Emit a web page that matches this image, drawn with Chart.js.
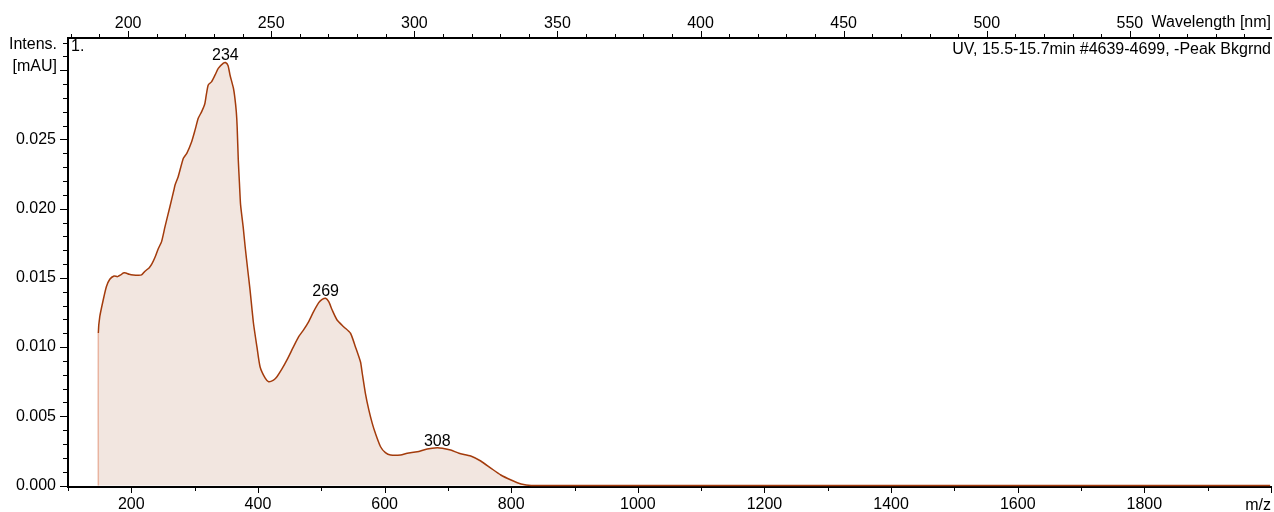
<!DOCTYPE html>
<html>
<head>
<meta charset="utf-8">
<title>UV spectrum</title>
<script src="https://cdn.jsdelivr.net/npm/chart.js@4.4.1/dist/chart.umd.min.js"></script>
<style>
  html, body { margin: 0; padding: 0; background: #fff; overflow: hidden; }
  #wrap { width: 1274px; height: 512px; position: relative; }
</style>
</head>
<body>
<div id="wrap"><canvas id="spectrum"></canvas></div>
<script>
// UV absorbance spectrum, 15.5-15.7 min, background subtracted
const wavelengthNm = [
  189.6, 189.6, 190.1, 191.3, 192.4, 193.6, 195.1, 196.3, 197.4, 198.3, 199.2,
  200.4, 201.8, 203.5, 204.7, 205.9, 207.4, 208.4, 209.4, 210.5, 211.7,
  212.9, 214.6, 216.0, 216.4, 217.5, 219.3, 220.5, 222.2, 223.4, 224.5,
  225.7, 226.8, 227.3, 228.0, 229.2, 230.4, 231.5, 233.3, 234.0, 234.9,
  235.6, 236.8, 237.3, 237.8, 238.1, 238.5, 238.9, 239.3, 240.2, 240.9,
  241.8, 242.6, 243.8, 245.0, 246.1, 247.9, 249.1, 250.8, 252.0, 253.7,
  255.5, 257.8, 259.6, 261.3, 263.1, 264.8, 266.6, 267.8, 269.0, 270.1,
  271.3, 273.0, 275.3, 277.7, 279.4, 281.2, 281.8, 282.9, 284.1, 285.3,
  286.4, 288.2, 289.9, 291.7, 295.2, 297.5, 301.0, 304.5, 308.0, 309.8,
  312.7, 315.6, 319.7, 323.2, 326.7, 330.2, 333.8, 337.3, 340.8, 360.0,
  400.0, 450.0, 500.0, 550.0, 599.0
];
const intensityMau = [
  0.00000, 0.01102, 0.01220, 0.01340, 0.01436, 0.01490, 0.01514, 0.01509, 0.01521, 0.01535, 0.01535,
  0.01526, 0.01521, 0.01519, 0.01521, 0.01548, 0.01574, 0.01605, 0.01649, 0.01709, 0.01762,
  0.01870, 0.02014, 0.02135, 0.02171, 0.02231, 0.02364, 0.02400, 0.02484, 0.02569, 0.02653,
  0.02701, 0.02758, 0.02820, 0.02894, 0.02918, 0.02966, 0.03014, 0.03051, 0.03056, 0.03035,
  0.02966, 0.02870, 0.02800, 0.02700, 0.02590, 0.02350, 0.02184, 0.02027, 0.01868, 0.01723,
  0.01557, 0.01413, 0.01172, 0.01003, 0.00858, 0.00775, 0.00750, 0.00762, 0.00786, 0.00840,
  0.00907, 0.01003, 0.01075, 0.01124, 0.01184, 0.01256, 0.01321, 0.01345, 0.01353, 0.01328,
  0.01268, 0.01196, 0.01147, 0.01100, 0.01003, 0.00892, 0.00811, 0.00666, 0.00546, 0.00449,
  0.00377, 0.00280, 0.00237, 0.00220, 0.00220, 0.00233, 0.00244, 0.00264, 0.00273, 0.00269,
  0.00256, 0.00233, 0.00213, 0.00177, 0.00126, 0.00076, 0.00040, 0.00011, 0.00000, 0.00000,
  0.00000, 0.00000, 0.00000, 0.00000, 0.00000
];
const peakWavelengths = [234, 269, 308];

const mzTicks = [200, 400, 600, 800, 1000, 1200, 1400, 1600, 1800];
const nmTicks = [200, 250, 300, 350, 400, 450, 500, 550];
const intensityTicks = [0, 0.005, 0.010, 0.015, 0.020, 0.025, 0.030];
const intensityTickLabels = ['0.000', '0.005', '0.010', '0.015', '0.020', '0.025', ''];

const FONT = '"Liberation Sans", Arial, Helvetica, sans-serif';
const LINE = '#a33b0c';
const EDGE = '#e9b4a0';
const FILL = '#f2e6e0';

const points = wavelengthNm.map((w, i) => ({ x: w, y: intensityMau[i] }));

// tick marks, axis captions and peak annotations
const axisDecor = {
  id: 'axisDecor',
  afterDraw(chart) {
    const { ctx, chartArea: a, scales } = chart;
    const ys = scales.y, xb = scales.x, xt = scales.xw;
    ctx.save();
    ctx.strokeStyle = '#000';
    ctx.lineWidth = 1;
    ctx.beginPath();
    for (let k = 0; k <= 32; k++) {
      const py = Math.round(ys.getPixelForValue(k / 1000)) + 0.5;
      const len = k % 5 === 0 ? 8 : 5;
      ctx.moveTo(a.left - len, py); ctx.lineTo(a.left, py);
    }
    for (let m = 100; m <= 2000; m += 100) {
      const px = Math.round(xb.getPixelForValue(m)) + 0.5;
      const len = m % 200 === 0 ? 6 : 4;
      ctx.moveTo(px, a.bottom); ctx.lineTo(px, a.bottom + len);
    }
    for (let n = 180; n <= xt.max; n += 10) {
      const px = Math.round(xt.getPixelForValue(n)) + 0.5;
      const len = n % 50 === 0 ? 7 : 4;
      ctx.moveTo(px, a.top); ctx.lineTo(px, a.top - len);
    }
    ctx.stroke();

    ctx.fillStyle = '#000';
    ctx.font = '16px ' + FONT;
    ctx.textBaseline = 'middle';
    ctx.textAlign = 'right';
    ctx.fillText('Intens.', 57, 45);
    ctx.fillText('[mAU]', 57, 67);
    ctx.fillText('m/z', a.right, 506);
    ctx.fillText('Wavelength [nm]', a.right, 23);
    ctx.fillText('UV, 15.5-15.7min #4639-4699, -Peak Bkgrnd', a.right, 50);
    ctx.textAlign = 'left';
    ctx.fillText('1.', a.left + 3, 47);

    ctx.textAlign = 'center';
    ctx.textBaseline = 'alphabetic';
    peakWavelengths.forEach(w => {
      const i = wavelengthNm.indexOf(w);
      const px = xt.getPixelForValue(w);
      const py = ys.getPixelForValue(intensityMau[i]);
      ctx.fillText(String(w), px, py - 2);
    });
    ctx.restore();
  }
};

new Chart(document.getElementById('spectrum'), {
  type: 'line',
  data: {
    datasets: [{
      data: points,
      xAxisID: 'xw',
      yAxisID: 'y',
      borderColor: LINE,
      borderWidth: 1.5,
      backgroundColor: FILL,
      fill: 'origin',
      pointRadius: 0,
      tension: 0.2,
      segment: {
        borderColor: c => (c.p0DataIndex === 0 ? EDGE : LINE)
      }
    }]
  },
  options: {
    responsive: true,
    maintainAspectRatio: false,
    animation: false,
    events: [],
    layout: { padding: { left: 0, right: 3, top: 0, bottom: 0 } },
    plugins: { legend: { display: false }, tooltip: { enabled: false } },
    scales: {
      x: {
        type: 'linear',
        position: 'bottom',
        min: 100,
        max: 2000,
        afterBuildTicks: s => { s.ticks = mzTicks.map(v => ({ value: v })); },
        afterFit: s => { s.height = 25; },
        grid: { display: false, drawTicks: false },
        border: { display: true, color: '#000', width: 2 },
        ticks: { color: '#000', padding: 8, maxRotation: 0, autoSkip: false,
                 font: { family: FONT, size: 16 }, callback: (v, i) => String(mzTicks[i]) }
      },
      xw: {
        type: 'linear',
        position: 'top',
        min: 179,
        max: 599.3,
        afterBuildTicks: s => { s.ticks = nmTicks.map(v => ({ value: v })); },
        afterFit: s => { s.height = 38; },
        grid: { display: false, drawTicks: false },
        border: { display: true, color: '#000', width: 2 },
        ticks: { color: '#000', padding: 5, maxRotation: 0, autoSkip: false,
                 font: { family: FONT, size: 16 }, callback: (v, i) => String(nmTicks[i]) }
      },
      y: {
        type: 'linear',
        position: 'left',
        min: -0.000108,
        max: 0.03233,
        afterBuildTicks: s => { s.ticks = intensityTicks.map(v => ({ value: v })); },
        afterFit: s => { s.width = 68; },
        grid: { display: false, drawTicks: false },
        border: { display: true, color: '#000', width: 2 },
        ticks: { color: '#000', padding: 12, autoSkip: false,
                 font: { family: FONT, size: 16 }, callback: (v, i) => intensityTickLabels[i] }
      }
    }
  },
  plugins: [axisDecor]
});
</script>
</body>
</html>
